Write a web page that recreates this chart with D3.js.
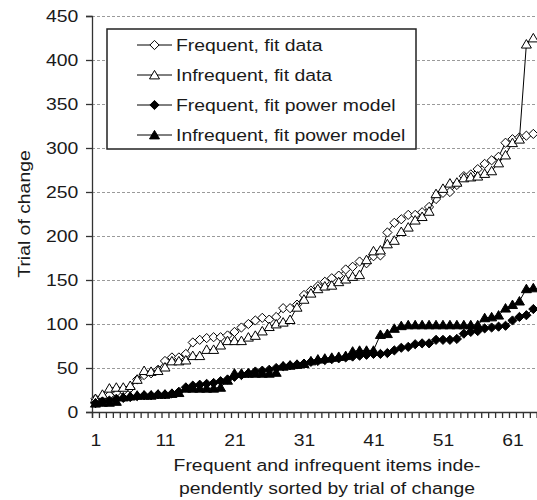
<!DOCTYPE html>
<html>
  <head>
    <meta charset="utf-8">
    <script src="https://cdn.jsdelivr.net/npm/d3@7"></script>
    <style>
      body {
        margin: 0px;
        background: #fff;
      }
      text {
        font-family: 'Liberation Sans', Arial, sans-serif;
        font-size: 17px;
        fill: #1a1a1a;
      }
      .grid line {
        stroke: #9a9a9a;
        stroke-width: 1;
        stroke-dasharray: 3,2;
      }
      .axis .domain, .axis .tick line {
        stroke: #333;
        stroke-width: 1.3;
      }
      .series-line {
        fill: none;
        stroke: #000;
        stroke-width: 1;
      }
    </style>
  </head>
  <body>
    <svg width="537" height="500"></svg>
    <script>

      // values, item 1..64
      var freqFit = [15, 17, 19, 22, 24, 27, 37, 42, 44, 48, 58, 62, 62, 66, 79, 82,
        84, 85, 85, 87, 91, 96, 100, 104, 107, 105, 108, 118, 118, 122, 133, 138,
        143, 148, 152, 155, 162, 165, 171, 169, 177, 178, 204, 215, 219, 224, 224, 227,
        233, 242, 249, 250, 258, 268, 270, 276, 282, 286, 290, 306, 310, 312, 314, 316];
      var infreqFit = [15, 20, 27, 28, 28, 30, 37, 47, 46, 47, 51, 58, 58, 59, 64, 64,
        71, 71, 76, 81, 81, 81, 85, 87, 92, 97, 100, 102, 105, 119, 128, 135,
        140, 143, 144, 148, 151, 154, 156, 173, 183, 184, 191, 195, 205, 210, 218, 222,
        228, 248, 254, 260, 261, 266, 267, 268, 271, 274, 283, 292, 306, 310, 418, 425];
      var freqPower = [10, 12, 13, 15, 16, 17, 18, 19, 19, 20, 20, 21, 23, 28, 30, 31,
        32, 33, 35, 37, 40, 42, 44, 46, 47, 48, 50, 52, 53, 54, 55, 57,
        58, 59, 60, 61, 62, 63, 64, 65, 66, 66, 67, 70, 73, 74, 77, 78,
        78, 82, 82, 82, 83, 89, 91, 92, 95, 96, 97, 98, 104, 108, 110, 117];
      var infreqPower = [10, 11, 11, 12, 17, 18, 19, 19, 19, 20, 20, 21, 22, 27, 27, 27,
        27, 27, 28, 36, 44, 44, 44, 44, 44, 44, 45, 52, 53, 54, 55, 58,
        60, 61, 62, 63, 64, 69, 70, 70, 70, 88, 89, 95, 98, 99, 99, 99,
        99, 99, 99, 99, 99, 99, 99, 99, 107, 108, 110, 118, 122, 126, 140, 141];

      var seriesNames = ['Frequent, fit data', 'Infrequent, fit data',
        'Frequent, fit power model', 'Infrequent, fit power model'];
      var xTickLabels = [1, 11, 21, 31, 41, 51, 61];
      var yTickValues = [0, 50, 100, 150, 200, 250, 300, 350, 400, 450];
      var xTitle = ['Frequent and infrequent items inde-', 'pendently sorted by trial of change'];
      var yTitle = 'Trial of change';

      var series = [
        { name: seriesNames[0], values: freqFit, shape: 'diamond', fill: '#fff' },
        { name: seriesNames[1], values: infreqFit, shape: 'triangle', fill: '#fff' },
        { name: seriesNames[2], values: freqPower, shape: 'diamond', fill: '#000' },
        { name: seriesNames[3], values: infreqPower, shape: 'triangle', fill: '#000' }
      ];

      var svg = d3.select('svg');
      // the reference type is a bit wider than it is tall
      var textStretch = 'scale(1.14,1)';

      var nItems = freqFit.length;
      var xScale = d3.scaleLinear()
        .domain([0.5, nItems + 0.5])
        .range([92, 536.8]);
      var yScale = d3.scaleLinear()
        .domain([0, 450])
        .range([412, 16]);

      var shapes = {
        diamond: 'M0,-4.6L4.6,0L0,4.6L-4.6,0Z',
        triangle: 'M0,-4.6L5,3.9L-5,3.9Z'
      };

      // gridlines
      svg.append('g')
          .attr('class', 'grid')
        .selectAll('line')
        .data(yTickValues.filter(d => d > 0))
        .enter().append('line')
          .attr('x1', xScale.range()[0])
          .attr('x2', 537)
          .attr('y1', d => yScale(d) + 0.5)
          .attr('y2', d => yScale(d) + 0.5);

      // y axis
      var yAxisG = svg.append('g')
          .attr('class', 'axis')
          .attr('transform', `translate(${xScale.range()[0]},0)`)
          .call(d3.axisLeft(yScale).tickValues(yTickValues).tickSizeOuter(0).tickSize(6).tickPadding(6));
      yAxisG.selectAll('.tick text')
          .attr('transform', textStretch)
          .attr('fill', '#1a1a1a');

      // x axis: minor ticks at category boundaries, labels every 10th item
      var xAxisG = svg.append('g')
          .attr('class', 'axis')
          .attr('transform', `translate(0,${yScale(0)})`)
          .call(d3.axisBottom(xScale)
            .tickValues(d3.range(0.5, nItems + 1, 1))
            .tickFormat('')
            .tickSizeOuter(0)
            .tickSize(6));
      var xLabelG = svg.append('g')
          .attr('transform', `translate(0,${yScale(0)})`)
          .call(d3.axisBottom(xScale).tickValues(xTickLabels).tickSize(0).tickPadding(22));
      xLabelG.select('.domain').remove();
      xLabelG.selectAll('.tick text')
          .attr('transform', textStretch)
          .attr('fill', '#1a1a1a');

      // series
      var line = d3.line()
        .x((d, i) => xScale(i + 1))
        .y(d => yScale(d));

      var seriesG = svg.selectAll('.series')
        .data(series)
        .enter().append('g')
          .attr('class', 'series');
      seriesG.append('path')
          .attr('class', 'series-line')
          .attr('d', d => line(d.values));
      seriesG.each(function (s) {
        d3.select(this).selectAll('.marker')
          .data(s.values)
          .enter().append('path')
            .attr('class', 'marker')
            .attr('d', shapes[s.shape])
            .attr('transform', (d, i) => `translate(${xScale(i + 1)},${yScale(d)})`)
            .attr('fill', s.fill)
            .attr('stroke', '#000')
            .attr('stroke-width', 1);
      });

      // legend
      var legendG = svg.append('g')
          .attr('transform', 'translate(107,29)');
      legendG.append('rect')
          .attr('width', 309)
          .attr('height', 120)
          .attr('fill', '#fff')
          .attr('stroke', '#222')
          .attr('stroke-width', 1.5);
      var legendRows = legendG.selectAll('.legend-row')
        .data(series)
        .enter().append('g')
          .attr('class', 'legend-row')
          .attr('transform', (d, i) => `translate(0,${16 + i * 30})`);
      legendRows.append('line')
          .attr('x1', 30)
          .attr('x2', 65)
          .attr('stroke', '#000')
          .attr('stroke-width', 1);
      legendRows.append('path')
          .attr('d', d => shapes[d.shape])
          .attr('transform', 'translate(47.5,0)')
          .attr('fill', d => d.fill)
          .attr('stroke', '#000');
      legendRows.append('text')
          .attr('transform', 'translate(69,6) ' + textStretch)
          .text(d => d.name);

      // axis titles
      svg.append('text')
          .attr('transform', 'translate(30,214) rotate(-90) ' + textStretch)
          .attr('text-anchor', 'middle')
          .text(yTitle);
      svg.selectAll('.x-title')
        .data(xTitle)
        .enter().append('text')
          .attr('class', 'x-title')
          .attr('transform', (d, i) => `translate(327,${471 + i * 23}) ${textStretch}`)
          .attr('text-anchor', 'middle')
          .text(d => d);
    </script>
  </body>
</html>
